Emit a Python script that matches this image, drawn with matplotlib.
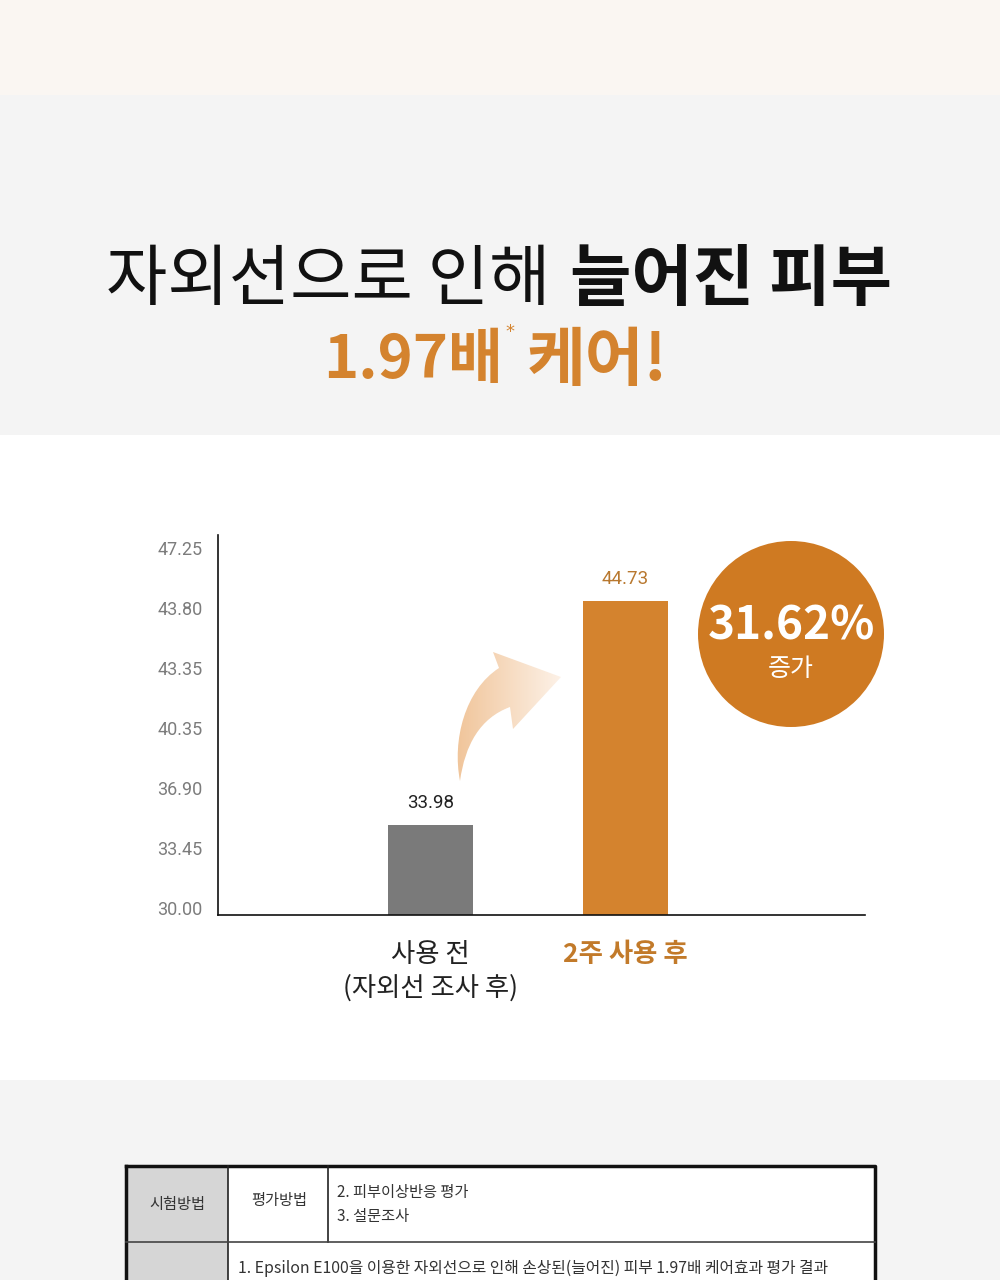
import numpy as np
import matplotlib
matplotlib.use("Agg")
import matplotlib.pyplot as plt
from matplotlib.patches import Rectangle, Circle, PathPatch
from matplotlib.path import Path

plt.rcParams['font.family'] = ['Noto Sans CJK KR', 'DejaVu Sans']

# chart data
categories = ['사용 전\n(자외선 조사 후)', '2주 사용 후']
values = [33.98, 44.73]
bar_colors = ['#7a7a7a', '#d4832e']
label_colors = ['#222222', '#b8782f']
ytick_labels = ['30.00', '33.45', '36.90', '40.35', '43.35', '43.80', '47.25']
y_min, y_max = 30.0, 47.25
increase_text = '31.62%'

ORANGE = '#d4832e'

fig = plt.figure(figsize=(10, 12.8), dpi=100)

# background / decoration layer in pixel coords
bg = fig.add_axes([0, 0, 1, 1], zorder=0)
bg.set_xlim(0, 1000)
bg.set_ylim(1280, 0)
bg.axis('off')
bg.add_patch(Rectangle((0, 0), 1000, 95, color='#faf6f2', lw=0))
bg.add_patch(Rectangle((0, 95), 1000, 340, color='#f4f4f4', lw=0))
bg.add_patch(Rectangle((0, 435), 1000, 645, color='white', lw=0))
bg.add_patch(Rectangle((0, 1080), 1000, 200, color='#f4f4f4', lw=0))

# headline
bg.text(550, 281, '자외선으로 인해', ha='right', va='center', fontsize=48,
        fontweight='light', color='#111111')
bg.text(570, 281, '늘어진 피부', ha='left', va='center', fontsize=48,
        fontweight='heavy', color='#111111')
bg.text(503, 361, '1.97배', ha='right', va='center', fontsize=43,
        fontweight='heavy', color=ORANGE)
bg.text(510, 332, '*', ha='center', va='center', fontsize=13, color=ORANGE,
        family=['DejaVu Sans'])
bg.text(527, 361, '케어!', ha='left', va='center', fontsize=46,
        fontweight='heavy', color=ORANGE)

# table at the bottom
bg.add_patch(Rectangle((126, 1166), 102, 130, color='#d6d6d6', lw=0))
bg.add_patch(Rectangle((228, 1166), 647, 130, color='white', lw=0))
bg.plot([126, 875, 875], [1166, 1166, 1290], color='#111111', lw=2.5)
bg.plot([126, 126], [1166, 1290], color='#111111', lw=2.5)
bg.plot([228, 228], [1166, 1290], color='#222222', lw=1.2)
bg.plot([328, 328], [1166, 1242], color='#222222', lw=1.2)
bg.plot([126, 875], [1242, 1242], color='#444444', lw=1.2)
bg.text(177, 1204, '시험방법', ha='center', va='center', fontsize=11, color='#333333')
bg.text(279, 1200, '평가방법', ha='center', va='center', fontsize=11, color='#333333')
bg.text(337, 1192, '2. 피부이상반응 평가', ha='left', va='center', fontsize=11, color='#333333')
bg.text(337, 1217, '3. 설문조사', ha='left', va='center', fontsize=11, color='#333333')
bg.text(238, 1268, '1. Epsilon E100을 이용한 자외선으로 인해 손상된(늘어진) 피부 1.97배 케어효과 평가 결과',
        ha='left', va='center', fontsize=11.4, color='#333333')

# bar chart
ax = fig.add_axes([0.218, 0.2852, 0.647, 0.2969], zorder=1)
ax.set_facecolor('none')
step = (y_max - y_min) / 6
y_bottom = y_min - 7 * step / 60
ax.set_ylim(y_bottom, y_min + 373 * step / 60)
ax.set_xlim(-1.09, 2.228)

x = np.arange(len(categories))
heights = [v - y_bottom for v in values]
ax.bar(x, heights, bottom=y_bottom, width=0.436, color=bar_colors)
for i, v in enumerate(values):
    ax.annotate(f'{v:.2f}', (x[i], v), xytext=(0, 9), textcoords='offset points',
                ha='center', va='bottom', fontsize=13.5, color=label_colors[i],
                family=['Roboto', 'DejaVu Sans'])

ax.set_yticks(np.linspace(y_min, y_max, 7))
ax.set_yticklabels(ytick_labels, family=['Roboto', 'DejaVu Sans'],
                   fontsize=13, color='#7c7c7c')
ax.set_xticks(x)
ax.set_xticklabels(categories, fontsize=19, linespacing=1.3)
ax.tick_params(axis='both', length=0)
ax.tick_params(axis='y', pad=11)
ax.tick_params(axis='x', pad=19)
xt = ax.get_xticklabels()
xt[0].set_color('#222222')
xt[1].set_color('#c27a2a')
xt[1].set_fontweight('bold')
for s in ['top', 'right']:
    ax.spines[s].set_visible(False)
for s in ['left', 'bottom']:
    ax.spines[s].set_color('#111111')
    ax.spines[s].set_linewidth(1.2)

# overlay: arrow and circle
ov = fig.add_axes([0, 0, 1, 1], zorder=2)
ov.set_xlim(0, 1000)
ov.set_ylim(1280, 0)
ov.axis('off')
ov.patch.set_alpha(0)

verts = [(460, 781), (452, 740), (465, 690), (499, 668),
         (493, 652), (561, 677), (513, 729), (510, 707),
         (480, 718), (465, 745), (460, 781), (460, 781)]
codes = [Path.MOVETO, Path.CURVE4, Path.CURVE4, Path.CURVE4,
         Path.LINETO, Path.LINETO, Path.LINETO, Path.LINETO,
         Path.CURVE4, Path.CURVE4, Path.CURVE4, Path.CLOSEPOLY]
arrow = PathPatch(Path(verts, codes), facecolor='none', edgecolor='none')
ov.add_patch(arrow)
c0 = np.array(matplotlib.colors.to_rgb('#f0c397'))
c1 = np.array(matplotlib.colors.to_rgb('#fdf2e8'))
t = np.linspace(0, 1, 120)
grad = (c0[None, :] * (1 - t[:, None]) + c1[None, :] * t[:, None])[None, :, :]
im = ov.imshow(grad, extent=(452, 562, 782, 650), aspect='auto', interpolation='bilinear')
im.set_clip_path(arrow)

ov.add_patch(Circle((791, 634), 93, color='#cf7a22', lw=0))
ov.text(791, 627, increase_text, ha='center', va='center', fontsize=33,
        fontweight='bold', color='white')
ov.text(791, 669, '증가', ha='center', va='center', fontsize=18, color='white')
ov.set_xlim(0, 1000)
ov.set_ylim(1280, 0)

fig.savefig('out.png', dpi=100)
